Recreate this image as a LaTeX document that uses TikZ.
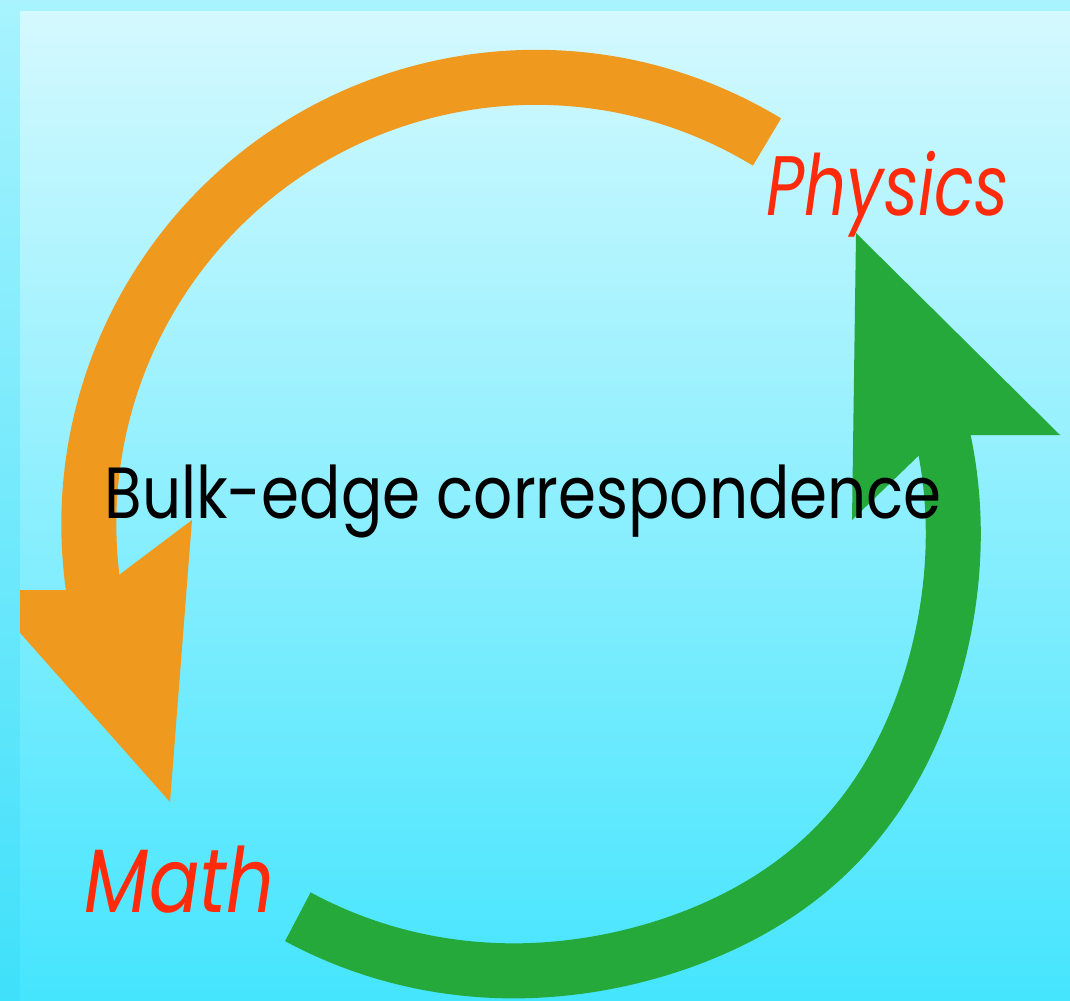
\documentclass[tikz,border=0pt]{standalone}
\usepackage{fontspec}
\usepackage{tikz}
\usetikzlibrary{positioning, calc}
\newfontfamily\titlefont[FakeStretch=0.845]{Poppins}
\newfontfamily\physfont[FakeStretch=0.78]{Poppins}
\newfontfamily\mathfont[FakeStretch=0.83]{Poppins}
\definecolor{myorange}{HTML}{F0991F}
\definecolor{mygreen}{HTML}{26A93B}
\definecolor{myred}{HTML}{FF2B0B}
\definecolor{frametop}{HTML}{A8F3FE}
\definecolor{framebot}{HTML}{3FE0FA}
\definecolor{paneltop}{HTML}{D4F9FE}
\definecolor{panelbot}{HTML}{45E5FE}

\begin{document}
\begin{tikzpicture}[
  x=0.01cm, y=0.01cm,
  declare function={grad(\t)=448-0.085*(\t-240)+12*exp(-((\t-315)^2)/600);},
  shaft/.style={line width=0.55cm, line cap=butt},
  title/.style={inner sep=0pt, anchor=base west, font=\titlefont\fontsize{20.6}{24}\selectfont},
  side/.style={inner sep=0pt, anchor=base west, text=myred}
]
\useasboundingbox (0,0) rectangle (1070,-1000);
% frame and panel
\fill[top color=frametop, bottom color=framebot] (0,0) rectangle (1070,-1000);
\fill[top color=paneltop, bottom color=panelbot] (20,-11) rectangle (1070,-1000);

\begin{scope}
\clip (20,-11) rectangle (1070,-1000);
% orange arrow, physics to math
\coordinate (ostart) at (767,-142);
\coordinate (otip) at (170,-802);
\coordinate (owingr) at (192,-520);
\coordinate (onotch) at (99,-590);
\coordinate (owingl) at (-18,-590);
\draw[shaft, myorange] (ostart) arc[start angle=58.8, end angle=192, radius=4.465cm];
\fill[myorange] (otip) -- (owingr) -- (onotch) -- (owingl) -- cycle;
% green arrow, math to physics
\coordinate (gcentre) at (515,-525);
\coordinate (gtip) at (856,-233);
\coordinate (gwingr) at (1060,-435);
\coordinate (gnotch) at (940,-435);
\coordinate (gwingl) at (852,-520);
\draw[shaft, mygreen, shift={(gcentre)}] plot[domain=241:374, samples=90, smooth, variable=\t]
  ({grad(\t)*cos(\t)}, {grad(\t)*sin(\t)});
\fill[mygreen] (gtip) -- (gwingr) -- (gnotch) -- (gwingl) -- cycle;
\end{scope}

\node[title] (bulk) at (104,-518) {Bulk-edge correspondence};
\node[side, font=\physfont\itshape\fontsize{24}{28}\selectfont] (physics) at (766,-215) {Physics};
\node[side, font=\mathfont\itshape\fontsize{25.6}{30}\selectfont] (math) at (84,-912) {Math};
\end{tikzpicture}
\end{document}
